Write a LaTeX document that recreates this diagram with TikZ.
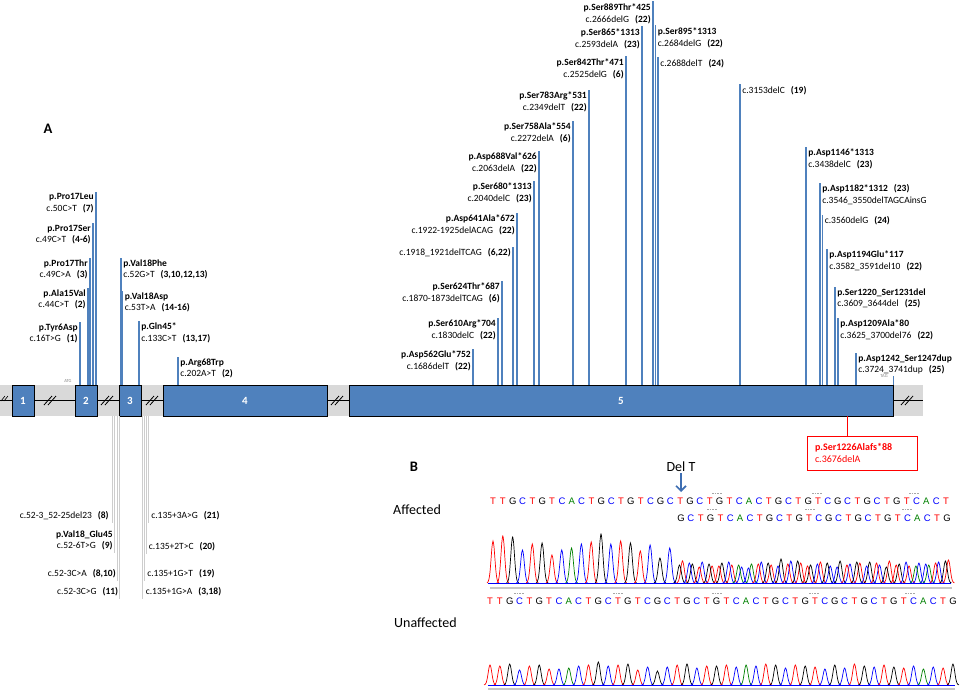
\documentclass[tikz,border=0pt]{standalone}
\usepackage{fontspec}
\setmainfont{Carlito}
\newfontfamily\seqfont{Liberation Sans}
\usetikzlibrary{arrows.meta}

\definecolor{exonblue}{RGB}{79,129,189}
\definecolor{arrowblue}{RGB}{62,110,178}
\definecolor{bandgray}{RGB}{217,217,217}
\definecolor{splicegray}{RGB}{205,205,205}
\definecolor{mutred}{RGB}{255,0,0}
\definecolor{seqT}{RGB}{255,0,0}
\definecolor{seqC}{RGB}{0,0,255}
\definecolor{seqG}{RGB}{0,0,0}
\definecolor{seqA}{RGB}{0,128,0}

\newcommand{\refno}[1]{\hspace{6pt}\textbf{(#1)}}

\begin{document}
\begin{tikzpicture}[x=1pt,y=-1pt,semithick]
\tikzstyle{lbl}=[inner sep=0pt,inner ysep=2pt,font=\fontsize{9.5}{11.5}\selectfont]
\tikzstyle{lblL}=[lbl,anchor=north east,align=right,xshift=-2pt]
\tikzstyle{lblR}=[lbl,anchor=north west,align=left,xshift=2pt]
\tikzstyle{stem}=[draw=exonblue,line width=1.1pt]
\tikzstyle{splice}=[draw=splicegray,line width=0.9pt]
\tikzstyle{exon}=[draw=black,line width=0.9pt,fill=exonblue,minimum height=31pt,inner sep=0pt,text=white,font=\fontsize{11}{11}\selectfont\bfseries]
\tikzstyle{brk}=[black,line width=0.8pt]
\tikzstyle{redbox}=[draw=mutred,line width=1pt,fill=white,text=mutred,align=left,text width=94pt,inner xsep=8pt,inner ysep=0pt,minimum height=34pt,font=\fontsize{10}{12}\selectfont]
\tikzstyle{panel}=[font=\fontsize{14.5}{15}\selectfont\bfseries,inner sep=0pt]
\tikzstyle{bigtxt}=[font=\fontsize{14}{15}\selectfont,inner sep=1pt]
\tikzstyle{base}=[font=\seqfont\fontsize{9.5}{10}\selectfont,inner sep=0pt]
\tikzstyle{tiny}=[font=\fontsize{4.5}{5}\selectfont,text=gray,inner sep=0pt]
\tikzstyle{trace}=[line width=0.7pt]
\tikzstyle{rule}=[draw=gray!45,line width=1.6pt]
\tikzstyle{tick}=[draw=gray!70,line width=0.6pt,dash pattern=on 1.5pt off 1.2pt]
\tikzstyle{delarrow}=[draw=arrowblue,line width=1.6pt,-{Straight Barb[length=5pt,width=10pt]}]

\useasboundingbox (0,0) rectangle (964,693);

% gene bar with exons
\fill[bandgray] (0,385) rectangle (923,416);
\coordinate (head) at (0,400.5);
\coordinate (tail) at (923,400.5);
\node[exon,minimum width=22pt] (e1) at (23,400.5) {1};
\node[exon,minimum width=22pt] (e2) at (86,400.5) {2};
\node[exon,minimum width=22pt] (e3) at (130,400.5) {3};
\node[exon,minimum width=164pt] (e4) at (245,400.5) {4};
\node[exon,minimum width=544pt] (e5) at (621,400.5) {5};
\draw[line width=0.8pt] (head) -- (e1) -- (e2) -- (e3) -- (e4) -- (e5) -- (tail);
\foreach \c in {50,107,152,337,907}{
  \draw[brk] (\c-6,405) -- (\c+2,396);
  \draw[brk] (\c-2,405) -- (\c+6,396);
}
\draw[brk,line width=0.6pt] (1,401) -- (5,396);
\draw[brk,line width=0.6pt] (4,401) -- (8,396);
\node[tiny] (atg) at (68,381) {ATG};
\node[tiny] (tag) at (884,376) {TAG};
\coordinate (b-tag) at (893,385);
\draw[stem,line width=0.8pt] (b-tag) -- (b-tag |- tag.center);

% exons 1-4
\coordinate (b-pro17leu) at (96,385);
\coordinate (b-pro17ser) at (93,385);
\coordinate (b-pro17thr) at (90,385);
\coordinate (b-ala15val) at (88,385);
\coordinate (b-tyr6asp) at (80,385);
\coordinate (b-val18phe) at (121,385);
\coordinate (b-val18asp) at (122.5,385);
\coordinate (b-gln45) at (139,385);
\coordinate (b-arg68trp) at (178,385);
\node[lblL] (pro17leu) at (96,191.5) {\textbf{p.Pro17Leu}\\c.50C>T\refno{7}};
\node[lblL] (pro17ser) at (93,222.5) {\textbf{p.Pro17Ser}\\c.49C>T\refno{4-6}};
\node[lblL] (pro17thr) at (90,257.5) {\textbf{p.Pro17Thr}\\c.49C>A\refno{3}};
\node[lblL] (ala15val) at (88,287.5) {\textbf{p.Ala15Val}\\c.44C>T\refno{2}};
\node[lblL] (tyr6asp) at (80,321.5) {\textbf{p.Tyr6Asp}\\c.16T>G\refno{1}};
\node[lblR] (val18phe) at (121,257.5) {\textbf{p.Val18Phe}\\c.52G>T\refno{3,10,12,13}};
\node[lblR] (val18asp) at (122.5,290.5) {\textbf{p.Val18Asp}\\c.53T>A\refno{14-16}};
\node[lblR] (gln45) at (139,320.5) {\textbf{p.Gln45*}\\c.133C>T\refno{13,17}};
\node[lblR] (arg68trp) at (178,356.5) {\textbf{p.Arg68Trp}\\c.202A>T\refno{2}};

% exon 5
\coordinate (b-asp562glu) at (473,385);
\coordinate (b-ser610arg) at (498,385);
\coordinate (b-ser624thr) at (502,385);
\coordinate (b-del1918) at (513,385);
\coordinate (b-asp641ala) at (517,385);
\coordinate (b-ser680) at (534,385);
\coordinate (b-asp688val) at (539,385);
\coordinate (b-ser758ala) at (573,385);
\coordinate (b-ser783arg) at (589,385);
\coordinate (b-ser842thr) at (626,385);
\coordinate (b-ser865) at (642,385);
\coordinate (b-ser889thr) at (653,385);
\coordinate (b-ser895) at (655.5,385);
\coordinate (b-del2688) at (658,385);
\coordinate (b-del3153) at (740,385);
\coordinate (b-asp1146) at (806,385);
\coordinate (b-asp1182) at (820,385);
\coordinate (b-del3560) at (822.5,385);
\coordinate (b-asp1194glu) at (827,385);
\coordinate (b-ser1220) at (835,385);
\coordinate (b-asp1209ala) at (838,385);
\coordinate (b-asp1242) at (856,385);
\node[lblL] (asp562glu) at (473,348.5) {\textbf{p.Asp562Glu*752}\\c.1686delT\refno{22}};
\node[lblL] (ser610arg) at (498,317.5) {\textbf{p.Ser610Arg*704}\\c.1830delC\refno{22}};
\node[lblL] (ser624thr) at (502,280.5) {\textbf{p.Ser624Thr*687}\\c.1870-1873delTCAG\refno{6}};
\node[lblL] (del1918) at (513,246.5) {c.1918\_1921delTCAG\refno{6,22}};
\node[lblL] (asp641ala) at (517,212.5) {\textbf{p.Asp641Ala*672}\\c.1922-1925delACAG\refno{22}};
\node[lblL] (ser680) at (534,180.5) {\textbf{p.Ser680*1313}\\c.2040delC\refno{23}};
\node[lblL] (asp688val) at (539,150.5) {\textbf{p.Asp688Val*626}\\c.2063delA\refno{22}};
\node[lblL] (ser758ala) at (573,120.5) {\textbf{p.Ser758Ala*554}\\c.2272delA\refno{6}};
\node[lblL] (ser783arg) at (589,89.5) {\textbf{p.Ser783Arg*531}\\c.2349delT\refno{22}};
\node[lblL] (ser842thr) at (626,56.5) {\textbf{p.Ser842Thr*471}\\c.2525delG\refno{6}};
\node[lblL] (ser865) at (642,26.5) {\textbf{p.Ser865*1313}\\c.2593delA\refno{23}};
\node[lblL] (ser889thr) at (653,1.5) {\textbf{p.Ser889Thr*425}\\c.2666delG\refno{22}};
\node[lblR] (ser895) at (655.5,25.5) {\textbf{p.Ser895*1313}\\c.2684delG\refno{22}};
\node[lblR] (del2688) at (658,57.5) {c.2688delT\refno{24}};
\node[lblR] (del3153) at (740,84.5) {c.3153delC\refno{19}};
\node[lblR] (asp1146) at (806,146.5) {\textbf{p.Asp1146*1313}\\c.3438delC\refno{23}};
\node[lblR] (asp1182) at (820,182.5) {\textbf{p.Asp1182*1312}\refno{23}\\c.3546\_3550delTAGCAinsG};
\node[lblR] (del3560) at (822.5,214.5) {c.3560delG\refno{24}};
\node[lblR] (asp1194glu) at (827,248.5) {\textbf{p.Asp1194Glu*117}\\c.3582\_3591del10\refno{22}};
\node[lblR] (ser1220) at (835,286.5) {\textbf{p.Ser1220\_Ser1231del}\\c.3609\_3644del\refno{25}};
\node[lblR] (asp1209ala) at (838,317.5) {\textbf{p.Asp1209Ala*80}\\c.3625\_3700del76\refno{22}};
\node[lblR] (asp1242) at (856,352.5) {\textbf{p.Asp1242\_Ser1247dup}\\c.3724\_3741dup\refno{25}};

\foreach \m in {pro17leu,pro17ser,pro17thr,ala15val,tyr6asp,val18phe,val18asp,gln45,arg68trp,
  asp562glu,ser610arg,ser624thr,del1918,asp641ala,ser680,asp688val,ser758ala,ser783arg,
  ser842thr,ser865,ser889thr,ser895,del2688,del3153,asp1146,asp1182,del3560,asp1194glu,
  ser1220,asp1209ala,asp1242}
  \draw[stem] (b-\m) -- (b-\m |- \m.north);

% splice site variants
\coordinate (s-del23) at (112,416);
\coordinate (s-val18glu45) at (114.5,416);
\coordinate (s-c52ca) at (117,416);
\coordinate (s-c52cg) at (119.5,416);
\coordinate (s-c135ag) at (148.5,416);
\coordinate (s-c135tc) at (146.5,416);
\coordinate (s-c135gt) at (144.5,416);
\coordinate (s-c135ga) at (142.5,416);
\node[lbl,anchor=east] (del23) at (109,516) {c.52-3\_52-25del23\refno{8}};
\node[lbl,anchor=east,align=right] (val18glu45) at (113,540.5) {\textbf{p.Val18\_Glu45}\\c.52-6T>G\refno{9}};
\node[lbl,anchor=east] (c52ca) at (116,574) {c.52-3C>A\refno{8,10}};
\node[lbl,anchor=east] (c52cg) at (118.5,592) {c.52-3C>G\refno{11}};
\node[lbl,anchor=west] (c135ag) at (151,516) {c.135+3A>G\refno{21}};
\node[lbl,anchor=west] (c135tc) at (148.5,547) {c.135+2T>C\refno{20}};
\node[lbl,anchor=west] (c135gt) at (147,574) {c.135+1G>T\refno{19}};
\node[lbl,anchor=west] (c135ga) at (145.5,592) {c.135+1G>A\refno{3,18}};
\foreach \m in {del23,val18glu45,c52ca,c52cg,c135ag,c135tc,c135gt,c135ga}
  \draw[splice] (s-\m) -- (s-\m |- \m.south);

% new variant
\coordinate (s-ser1226) at (847,416);
\node[redbox] (ser1226) at (862,453) {\textbf{p.Ser1226Alafs*88}\\c.3676delA};
\draw[draw=mutred,line width=1pt] (s-ser1226) -- (s-ser1226 |- ser1226.north);

% panels
\node[panel] (A) at (48,128.5) {A};
\node[panel] (B) at (414,467) {B};
\node[bigtxt] (affected) at (417,510) {Affected};
\node[bigtxt] (unaffected) at (425.5,623) {Unaffected};
\node[bigtxt] (delT) at (681,467) {Del T};
\coordinate (deltip) at (681,492);
\draw[delarrow] (delT) -- (deltip);

% sequences
\foreach \c [count=\i from 0] in {T,T,G,C,T,G,T,C,A,C,T,G,C,T,G,T,C,G,C,T,G,C,T,G,T,C,A,C,T,G,C,T,G,T,C,G,C,T,G,C,T,G,T,C,A,C,T}
  \node[base,text=seq\c] (r1-\i) at (493+9.85*\i,501) {\c};
\foreach \c [count=\i from 0] in {G,C,T,G,T,C,A,C,T,G,C,T,G,T,C,G,C,T,G,C,T,G,T,C,A,C,T,G}
  \node[base,text=seq\c] (r2-\i) at (681+9.85*\i,518) {\c};
\foreach \c [count=\i from 0] in {T,T,G,C,T,G,T,C,A,C,T,G,C,T,G,T,C,G,C,T,G,C,T,G,T,C,A,C,T,G,C,T,G,T,C,G,C,T,G,C,T,G,T,C,A,C,T,G}
  \node[base,text=seq\c] (r3-\i) at (490+9.85*\i,601) {\c};
\foreach \t in {717,817,914} \draw[tick] (\t-5,493) -- (\t+5,493);
\foreach \t in {712,810,907} \draw[tick] (\t-5,509.5) -- (\t+5,509.5);
\foreach \t in {519,618,717,814,910} \draw[tick] (\t-5,593) -- (\t+5,593);

% affected trace
\foreach \b/\h [count=\i from 0] in {T/42,T/47,G/46,C/33,T/39,G/40,T/28,C/33,A/35,C/39,T/41,G/49,C/39,T/42,G/40,T/32,C/38,G/25,C/35}
  \draw[trace,color=seq\b] plot[domain=-6:6,samples=13,smooth] ({493+9.82*\i+\x},{583-\h*exp(-((\x/2.6)^2))});
\foreach \b/\h [count=\i from 0] in {T/22,G/19,C/21,T/17,G/20,T/18,C/16,A/19,C/21,T/18,G/24,C/22,T/20,G/18,T/21,C/17,G/22,C/19,T/20,G/21,C/18,T/22,G/19,T/17,C/20,A/18,C/21,T/23}
  \draw[trace,color=seq\b] plot[domain=-6:6,samples=13,smooth] ({682.5+9.85*\i+\x},{583-\h*exp(-((\x/2.6)^2))});
\foreach \b/\h [count=\i from 0] in {G/18,C/20,T/16,G/19,T/17,C/21,A/18,C/15,T/19,G/20,C/17,T/19,G/22,T/17,C/19,G/20,C/16,T/18,G/21,C/17,T/20,G/16,T/18,C/21,A/17,C/19,T/20,G/22}
  \draw[trace,color=seq\b] plot[domain=-6:6,samples=13,smooth] ({679.5+9.85*\i+\x},{583-\h*exp(-((\x/2.6)^2))});
\draw[seqC,line width=0.6pt] (488,583) -- (951,583);
\draw[rule] (490,588) -- (952,588);

% unaffected trace
\foreach \b/\h [count=\i from 0] in {T/20,T/19,G/21,C/15,T/19,G/20,T/16,C/16,A/17,C/19,T/20,G/23,C/19,T/20,G/21,T/15,C/18,G/14,C/18,T/20,G/21,C/17,T/19,G/19,T/20,C/18,A/20,C/19,T/21,G/20,C/17,T/20,G/19,T/18,C/16,G/20,C/17,T/21,G/19,C/18,T/20,G/18,T/17,C/19,A/16,C/18,T/17,G/21}
  \draw[trace,color=seq\b] plot[domain=-6:6,samples=13,smooth] ({490+9.85*\i+\x},{685-\h*exp(-((\x/2.6)^2))});
\draw[seqC,line width=0.6pt] (488,685) -- (955,685);
\draw[rule] (488,689) -- (955,689);
\end{tikzpicture}
\end{document}
